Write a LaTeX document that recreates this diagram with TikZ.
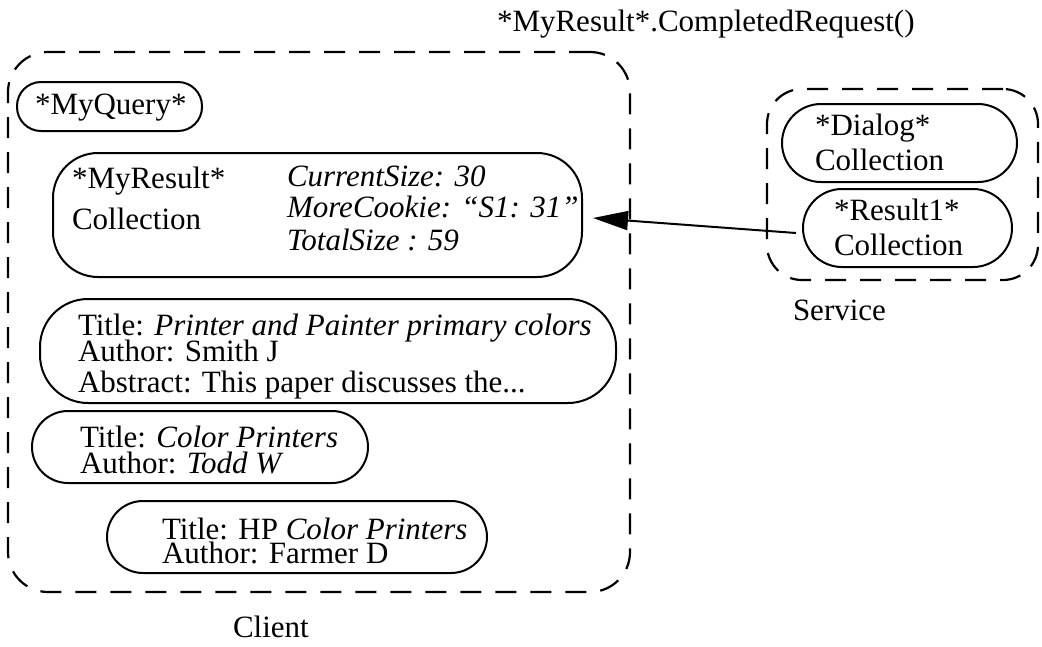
\documentclass[tikz,border=0pt]{standalone}
\usepackage{fontspec}
\setmainfont{Liberation Serif}
\usetikzlibrary{arrows.meta}
% stacked left-aligned lines with a fixed baseline distance (first argument)
\newcommand{\lines}[2]{\fontsize{31}{#1}\selectfont\lineskiplimit=-100pt\relax\vtop{\halign{##\hfil\cr#2\crcr}}}
\tikzset{
  txt/.style={anchor=base west, inner sep=0pt, outer sep=0pt, font=\fontsize{31}{31}\selectfont},
  pill/.style={draw, line width=2pt, rectangle, inner sep=0pt},
  grp/.style={draw, line width=2.2pt, rectangle, inner sep=0pt, dash pattern=on 21pt off 14pt},
  link/.style={line width=2pt, -{Triangle[length=35pt,width=19pt]}},
}
\begin{document}
\begin{tikzpicture}[x=1pt, y=-1pt]
\useasboundingbox (0,0) rectangle (1042,646);

% group outlines
\node[grp, rounded corners=40pt, minimum width=622pt, minimum height=540pt] (client) at (319,322) {};
\node[grp, rounded corners=35pt, minimum width=271pt, minimum height=191pt] (service) at (902.5,184.5) {};

% objects on the client side
\node[pill, rounded corners=24pt, minimum width=185pt, minimum height=49pt] (query) at (109.5,106.5) {};
\node[pill, rounded corners=45pt, minimum width=529pt, minimum height=124pt] (result) at (317.5,215) {};
\node[pill, rounded corners=48pt, minimum width=576pt, minimum height=104pt] (doc1) at (328,351) {};
\node[pill, rounded corners=36pt, minimum width=336pt, minimum height=72pt] (doc2) at (200,447) {};
\node[pill, rounded corners=36pt, minimum width=380pt, minimum height=72pt] (doc3) at (297,537) {};

% objects on the service side
\node[pill, rounded corners=39pt, minimum width=235pt, minimum height=78pt] (dialog) at (899.5,143) {};
\node[pill, rounded corners=39pt, minimum width=209pt, minimum height=78pt] (res1) at (907.5,228) {};

% texts
\node[txt] (call) at (497,31) {*MyResult*.CompletedRequest()};
\node[txt] (qlabel) at (35,114) {*MyQuery*};
\node[txt] (rname) at (72,188) {\lines{41}{*MyResult*\cr Collection}};
\node[txt] (rattr) at (287,186) {\lines{31}{\textit{CurrentSize: 30}\cr \textit{MoreCookie: “S1: 31”}\cr\noalign{\vskip2pt} \textit{TotalSize : 59}}};

\node[txt] (d1) at (78,335) {\lines{26}{Title: \textit{Printer and Painter primary colors}\cr Author: Smith J\cr\noalign{\vskip5pt} Abstract: This paper discusses the...}};
\node[txt] (d2) at (80,447) {\lines{26}{Title: \textit{Color Printers}\cr Author: \textit{Todd W}}};
\node[txt] (d3) at (162,539) {\lines{24}{Title: HP \textit{Color Printers}\cr Author: Farmer D}};

\node[txt] (dname) at (815,135) {\lines{35}{*Dialog*\cr Collection}};
\node[txt] (r1name) at (834,220) {\lines{35}{*Result1*\cr Collection}};

\node[txt] (slabel) at (793,320) {Service};
\node[txt] (clabel) at (233,637) {Client};

% completed request flowing back to the client
\coordinate (tip) at (593,218);
\coordinate (start) at (796,233);
\draw[link] (start) -- (tip);
\end{tikzpicture}
\end{document}
